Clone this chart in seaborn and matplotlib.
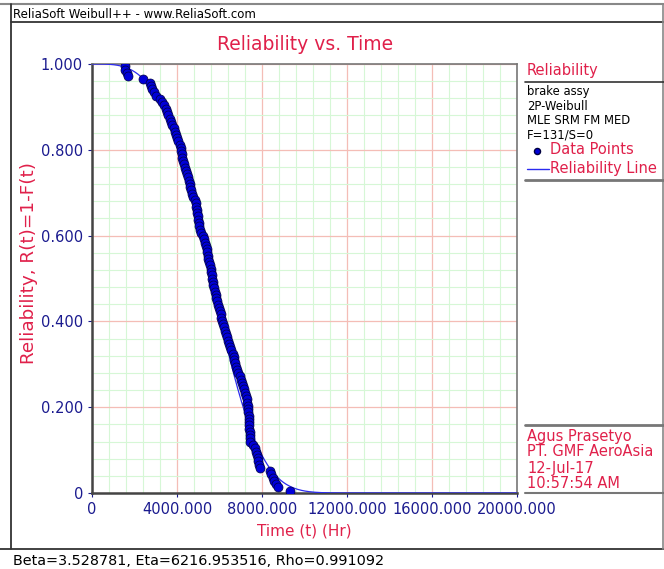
import numpy as np
import pandas as pd
import matplotlib
matplotlib.use("Agg")
import matplotlib.pyplot as plt
from matplotlib.lines import Line2D
from matplotlib.ticker import MultipleLocator, FixedLocator, FixedFormatter
import seaborn as sns

# ---- data ----
times_hr = [1553, 1553, 1647, 1694, 2400, 2729, 2776, 2824, 2918, 3012,
            3200, 3294, 3388, 3482, 3529, 3576, 3671, 3718, 3765, 3859,
            3906, 3953, 4000, 4047, 4141, 4188, 4188, 4235, 4235, 4282,
            4329, 4376, 4424, 4471, 4518, 4565, 4612, 4612, 4659, 4706,
            4753, 4847, 4894, 4894, 4941, 4941, 4988, 4988, 5035, 5035,
            5082, 5129, 5224, 5271, 5318, 5365, 5412, 5412, 5459, 5459,
            5506, 5553, 5600, 5600, 5647, 5647, 5694, 5694, 5741, 5788,
            5835, 5835, 5882, 5929, 5976, 6024, 6071, 6071, 6118, 6165,
            6212, 6259, 6306, 6353, 6400, 6447, 6494, 6541, 6635, 6682,
            6682, 6729, 6776, 6824, 6871, 6965, 7012, 7059, 7106, 7153,
            7200, 7247, 7294, 7294, 7341, 7341, 7341, 7388, 7388, 7388,
            7388, 7388, 7435, 7435, 7435, 7435, 7576, 7671, 7718, 7765,
            7812, 7812, 7859, 7906, 8376, 8424, 8518, 8565, 8659, 8753,
            9318]

reliability_pts = [0.9947, 0.9871, 0.9795, 0.9719, 0.9642, 0.9566, 0.9490, 0.9414, 0.9338, 0.9262,
                   0.9186, 0.9110, 0.9033, 0.8957, 0.8881, 0.8805, 0.8729, 0.8653, 0.8577, 0.8501,
                   0.8425, 0.8348, 0.8272, 0.8196, 0.8120, 0.8044, 0.7968, 0.7892, 0.7816, 0.7740,
                   0.7664, 0.7587, 0.7511, 0.7435, 0.7359, 0.7283, 0.7207, 0.7131, 0.7055, 0.6978,
                   0.6902, 0.6826, 0.6750, 0.6674, 0.6598, 0.6522, 0.6446, 0.6370, 0.6293, 0.6217,
                   0.6141, 0.6065, 0.5989, 0.5913, 0.5837, 0.5761, 0.5685, 0.5609, 0.5532, 0.5456,
                   0.5380, 0.5304, 0.5228, 0.5152, 0.5076, 0.5000, 0.4924, 0.4848, 0.4772, 0.4696,
                   0.4620, 0.4543, 0.4467, 0.4391, 0.4315, 0.4239, 0.4163, 0.4087, 0.4011, 0.3935,
                   0.3858, 0.3782, 0.3706, 0.3630, 0.3554, 0.3478, 0.3402, 0.3326, 0.3250, 0.3174,
                   0.3097, 0.3021, 0.2945, 0.2869, 0.2793, 0.2717, 0.2641, 0.2565, 0.2489, 0.2413,
                   0.2336, 0.2260, 0.2184, 0.2108, 0.2032, 0.1956, 0.1880, 0.1804, 0.1728, 0.1651,
                   0.1575, 0.1499, 0.1423, 0.1347, 0.1271, 0.1195, 0.1119, 0.1043, 0.0967, 0.0890,
                   0.0814, 0.0738, 0.0662, 0.0586, 0.0510, 0.0434, 0.0358, 0.0282, 0.0205, 0.0129,
                   0.0053]

beta = 3.528781
eta = 6216.953516
rho = 0.991092

x_ticks = [0, 4000, 8000, 12000, 16000, 20000]
x_tick_labels = ["0", "4000.000", "8000.000", "12000.000", "16000.000", "20000.000"]
y_ticks = [0, 0.2, 0.4, 0.6, 0.8, 1.0]
y_tick_labels = ["0", "0.200", "0.400", "0.600", "0.800", "1.000"]

legend_info = ["brake assy", "2P-Weibull", "MLE SRM FM MED", "F=131/S=0"]
stamp_info = ["Agus Prasetyo", "PT. GMF AeroAsia", "12-Jul-17", "10:57:54 AM"]

# ---- fitted reliability line from displayed parameters ----
t_line = np.linspace(0, 20000, 800)
r_line = np.exp(-(t_line / eta) ** beta)

pts = pd.DataFrame({"t": times_hr, "R": reliability_pts})
line_df = pd.DataFrame({"t": t_line, "R": r_line})

sns.set_theme(style="white")
plt.rcParams["font.family"] = ["DejaVu Sans"]

W, H = 664, 569
fig = plt.figure(figsize=(W / 100, H / 100), dpi=100)
fig.patch.set_facecolor("white")

def fx(px):
    return px / W

def fy(py):
    return 1 - py / H

ax = fig.add_axes([fx(92), fy(493), fx(517) - fx(92), fy(64) - fy(493)])

red = "#E0204A"
navy = "#1B1B8F"

ax.set_xlim(0, 20000)
ax.set_ylim(0, 1.0)
ax.xaxis.set_major_locator(FixedLocator(x_ticks))
ax.xaxis.set_major_formatter(FixedFormatter(x_tick_labels))
ax.yaxis.set_major_locator(FixedLocator(y_ticks))
ax.yaxis.set_major_formatter(FixedFormatter(y_tick_labels))
ax.xaxis.set_minor_locator(MultipleLocator(800))
ax.yaxis.set_minor_locator(MultipleLocator(0.04))
ax.grid(which="minor", color="#D6F7D6", linewidth=0.8, zorder=0)
ax.grid(which="major", color="#F4BDB6", linewidth=0.9, zorder=0)
ax.set_axisbelow(True)

sns.lineplot(data=line_df, x="t", y="R", ax=ax, color="#2B2BF0", linewidth=0.9, zorder=3)
sns.scatterplot(data=pts, x="t", y="R", ax=ax, color="#0000D8", edgecolor="#000040",
                linewidth=0.5, s=42, zorder=4)

ax.set_xlabel("Time (t) (Hr)", color=red, fontsize=11, labelpad=5)
ax.set_ylabel("Reliability, R(t)=1-F(t)", color=red, fontsize=13.2)
ax.yaxis.set_label_coords(-0.128, 0.535)
ax.tick_params(axis="both", which="major", labelsize=10.5, colors=navy, length=3, width=0.8,
               direction="out", left=True, bottom=True)
ax.tick_params(axis="both", which="minor", length=0)
for lab in ax.get_xticklabels() + ax.get_yticklabels():
    lab.set_color(navy)

for side in ["left", "bottom"]:
    ax.spines[side].set_color("#444444")
    ax.spines[side].set_linewidth(1.8)
for side in ["top", "right"]:
    ax.spines[side].set_color("#777777")
    ax.spines[side].set_linewidth(1.2)

# title
fig.text(fx(305), fy(45), "Reliability vs. Time", color=red, fontsize=13.5,
         ha="center", va="center")

# frame lines
def hline(y, x0, x1, color="#555555", lw=1.0):
    fig.add_artist(Line2D([fx(x0), fx(x1)], [fy(y), fy(y)], color=color, linewidth=lw,
                          transform=fig.transFigure))

def vline(x, y0, y1, color="#555555", lw=1.0):
    fig.add_artist(Line2D([fx(x), fx(x)], [fy(y0), fy(y1)], color=color, linewidth=lw,
                          transform=fig.transFigure))

hline(4, 0, 664, color="#888888", lw=1.5)
hline(22, 11, 664, color="#222222", lw=1.2)
vline(11, 4, 549, color="#333333", lw=1.3)
hline(549, 0, 664, color="#333333", lw=1.3)
vline(663, 4, 549, color="#888888", lw=1.2)

fig.text(fx(13), fy(14), "ReliaSoft Weibull++ - www.ReliaSoft.com", fontsize=8.5,
         color="black", ha="left", va="center")
fig.text(fx(13), fy(561), f"Beta={beta:.6f}, Eta={eta:.6f}, Rho={rho:.6f}", fontsize=10.4,
         color="black", ha="left", va="center")

# legend panel
fig.text(fx(527), fy(71), "Reliability", color=red, fontsize=10.5, ha="left", va="center")
hline(82, 525, 664, color="#333333", lw=1.2)
for i, s in enumerate(legend_info):
    fig.text(fx(527), fy(92 + i * 14.5), s, color="black", fontsize=8.4, ha="left", va="center")
fig.add_artist(Line2D([fx(537)], [fy(151)], marker="o", markersize=4.4, color="#0000D8",
                      markeredgecolor="#000040", linestyle="none", transform=fig.transFigure))
fig.text(fx(550), fy(150), "Data Points", color=red, fontsize=10.5, ha="left", va="center")
fig.add_artist(Line2D([fx(527), fx(549)], [fy(169), fy(169)], color="#2B2BF0", linewidth=1.0,
                      transform=fig.transFigure))
fig.text(fx(550), fy(168), "Reliability Line", color=red, fontsize=10.5, ha="left", va="center")
hline(180, 525, 664, color="#777777", lw=2.0)

# stamp panel
hline(425, 525, 664, color="#777777", lw=2.0)
for i, s in enumerate(stamp_info):
    fig.text(fx(527), fy(436 + i * 16), s, color=red, fontsize=10.5, ha="left", va="center")
hline(493, 525, 664, color="#777777", lw=1.5)

fig.savefig("out.png", dpi=100, facecolor="white")
